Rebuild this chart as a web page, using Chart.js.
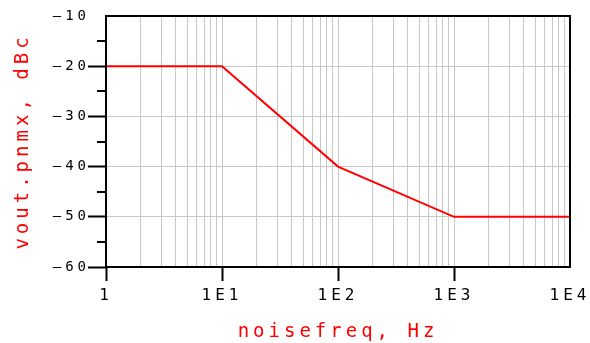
<!DOCTYPE html>
<html>
<head>
<meta charset="utf-8">
<script src="https://cdn.jsdelivr.net/npm/chart.js@4"></script>
<style>
  body { margin: 0; background: #fff; }
  canvas { display: block; }
</style>
</head>
<body>
<canvas id="myChart" width="590" height="343"></canvas>
<script>
// data
const freqs = [1, 10, 100, 1000, 10000];
const levels = [-20, -20, -40, -50, -50];

// axis ticks
const decades = [1, 10, 100, 1000, 10000];
const decadeLabels = ['1', '1E1', '1E2', '1E3', '1E4'];
const yMajor = [-60, -50, -40, -30, -20, -10];
const yMinor = [-55, -45, -35, -25, -15];

const RED = '#ff0000';
const FONT = "'DejaVu Sans Mono', monospace";

// grid lines at 1..9 of every decade
const xGrid = [];
decades.forEach(function(d, i) {
  if (i === decades.length - 1) { xGrid.push(d); return; }
  for (let k = 1; k < 10; k++) xGrid.push(d * k);
});

const framePlugin = {
  id: 'frame',
  beforeDraw(chart) {
    const c = chart.ctx;
    c.save();
    c.fillStyle = '#fff';
    c.fillRect(0, 0, chart.width, chart.height);
    c.restore();
    c.letterSpacing = '4px';
  },
  afterDraw(chart) {
    const c = chart.ctx;
    const a = chart.chartArea;
    const y = chart.scales.y;
    c.save();
    c.strokeStyle = '#000';
    c.lineWidth = 2;
    c.strokeRect(a.left, a.top, a.right - a.left, a.bottom - a.top);
    // short minor ticks on the y axis
    yMinor.forEach(function(v) {
      const py = Math.round(y.getPixelForValue(v));
      c.beginPath();
      c.moveTo(a.left - 9, py);
      c.lineTo(a.left, py);
      c.stroke();
    });
    c.restore();
  }
};

const ctx = document.getElementById('myChart').getContext('2d');
const myChart = new Chart(ctx, {
  type: 'line',
  data: {
    datasets: [{
      data: freqs.map(function(f, i) { return { x: f, y: levels[i] }; }),
      borderColor: RED,
      borderWidth: 2,
      pointRadius: 0,
      tension: 0
    }]
  },
  options: {
    responsive: false,
    animation: false,
    devicePixelRatio: 1,
    layout: { padding: { top: 16, right: 20, left: 0, bottom: 0 } },
    plugins: {
      legend: { display: false },
      tooltip: { enabled: false }
    },
    scales: {
      x: {
        type: 'logarithmic',
        min: 1,
        max: 10000,
        afterBuildTicks(scale) {
          scale.ticks = xGrid.map(function(v) { return { value: v }; });
        },
        afterFit(scale) {
          scale.height = 76;
          scale.paddingLeft = 0;
          scale.paddingRight = 0;
        },
        border: { display: false },
        grid: {
          color: '#c8c8c8',
          lineWidth: 1,
          tickLength: 14,
          tickWidth: 2,
          tickColor: function(c) {
            const v = c.tick ? c.tick.value : null;
            return (decades.indexOf(v) >= 0 && v !== 10000) ? '#000' : 'rgba(0,0,0,0)';
          }
        },
        ticks: {
          autoSkip: false,
          maxRotation: 0,
          padding: 5,
          color: '#000',
          font: { family: FONT, size: 16 },
          callback: function(value) {
            const i = decades.indexOf(value);
            return i >= 0 ? decadeLabels[i] : '';
          }
        },
        title: {
          display: true,
          text: 'noisefreq, Hz',
          color: RED,
          font: { family: FONT, size: 19 },
          padding: { top: 0, bottom: 0 }
        }
      },
      y: {
        min: -60,
        max: -10,
        afterBuildTicks(scale) {
          scale.ticks = yMajor.map(function(v) { return { value: v }; });
        },
        afterFit(scale) {
          scale.width = 106;
        },
        border: { display: false },
        grid: {
          color: '#c8c8c8',
          lineWidth: 1,
          tickLength: 18,
          tickWidth: 2,
          tickColor: function(c) {
            return (c.tick && c.tick.value !== -10) ? '#000' : 'rgba(0,0,0,0)';
          }
        },
        ticks: {
          padding: -2,
          color: '#000',
          font: { family: FONT, size: 14 },
          callback: function(value) {
            return String(value).replace('-', '\u2013');
          }
        },
        title: {
          display: true,
          text: 'vout.pnmx, dBc',
          color: RED,
          font: { family: FONT, size: 19 },
          padding: { top: 12, bottom: 0 }
        }
      }
    }
  },
  plugins: [framePlugin]
});
</script>
</body>
</html>
